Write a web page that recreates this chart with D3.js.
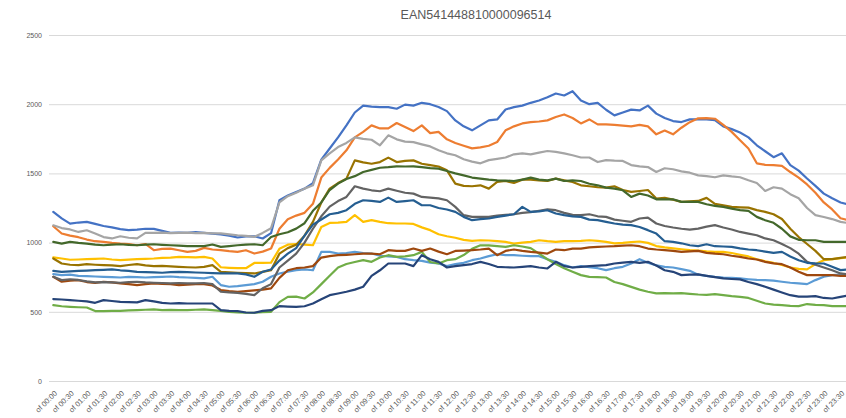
<!DOCTYPE html>
<html><head><meta charset="utf-8">
<script src="https://cdn.jsdelivr.net/npm/d3@7"></script>
<style>
body{margin:0;background:#fff}
svg{display:block}
text{font-family:"Liberation Sans",Arial,sans-serif}
</style>
</head><body>
<svg id="chart" width="846" height="418"></svg>
<script>
const chartTitle = "EAN541448810000096514";
const labelPrefix = "of ";
const times = [
"00:00","00:15","00:30","00:45","01:00","01:15","01:30","01:45","02:00","02:15","02:30","02:45",
"03:00","03:15","03:30","03:45","04:00","04:15","04:30","04:45","05:00","05:15","05:30","05:45",
"06:00","06:15","06:30","06:45","07:00","07:15","07:30","07:45","08:00","08:15","08:30","08:45",
"09:00","09:15","09:30","09:45","10:00","10:15","10:30","10:45","11:00","11:15","11:30","11:45",
"12:00","12:15","12:30","12:45","13:00","13:15","13:30","13:45","14:00","14:15","14:30","14:45",
"15:00","15:15","15:30","15:45","16:00","16:15","16:30","16:45","17:00","17:15","17:30","17:45",
"18:00","18:15","18:30","18:45","19:00","19:15","19:30","19:45","20:00","20:15","20:30","20:45",
"21:00","21:15","21:30","21:45","22:00","22:15","22:30","22:45","23:00","23:15","23:30","23:45"];
const tickLabels = ["00:00","00:30","01:00","01:30","02:00","02:30","03:00","03:30","04:00","04:30",
"05:00","05:30","06:00","06:30","07:00","07:30","08:00","08:30","09:00","09:30","10:00","10:30",
"11:00","11:30","12:00","12:30","13:00","13:30","14:00","14:30","15:00","15:30","16:00","16:30",
"17:00","17:30","18:00","18:30","19:00","19:30","20:00","20:30","21:00","21:30","22:00","22:30",
"23:00","23:30"];
const yTicks = [0,500,1000,1500,2000,2500];

const s1 = [1222,1175,1137,1145,1150,1135,1120,1110,1097,1090,
1094,1100,1099,1085,1070,1072,1070,1075,1070,1065,
1060,1050,1037,1045,1046,1030,1068,1306,1340,1366,
1390,1430,1600,1680,1760,1847,1940,1990,1982,1979,
1979,1967,1997,1990,2010,2000,1980,1950,1883,1840,
1811,1847,1883,1890,1962,1979,1990,2010,2027,2050,
2077,2063,2094,2027,2000,2010,1960,1919,1940,1961,
1955,1990,1932,1900,1878,1871,1890,1890,1890,1885,
1840,1820,1795,1760,1703,1660,1617,1645,1560,1520,
1463,1410,1354,1320,1290,1275];
const s2 = [1118,1066,1050,1039,1022,1010,1005,998,993,990,
981,990,945,955,957,945,933,940,962,950,
945,938,933,945,921,935,957,1100,1169,1195,
1215,1280,1470,1540,1600,1667,1760,1800,1847,1825,
1825,1864,1835,1806,1847,1791,1800,1746,1720,1700,
1681,1688,1700,1727,1811,1840,1861,1870,1875,1883,
1907,1926,1900,1861,1890,1854,1854,1850,1845,1840,
1850,1840,1782,1810,1782,1830,1870,1898,1900,1895,
1850,1800,1739,1680,1573,1562,1560,1555,1510,1470,
1420,1360,1290,1240,1176,1160];
const s3 = [1125,1105,1095,1077,1089,1066,1040,1030,1046,1035,
1030,1070,1070,1072,1068,1070,1072,1068,1070,1066,
1066,1060,1053,1048,1041,1070,1104,1290,1335,1360,
1390,1414,1594,1645,1690,1720,1760,1749,1743,1703,
1775,1746,1730,1726,1710,1695,1667,1645,1631,1602,
1585,1573,1596,1605,1615,1638,1645,1638,1650,1662,
1655,1645,1631,1615,1615,1582,1596,1592,1590,1560,
1551,1546,1510,1537,1530,1515,1505,1486,1480,1472,
1486,1478,1472,1450,1431,1373,1400,1390,1350,1320,
1250,1198,1185,1170,1150,1140];
const s4 = [893,885,876,878,880,883,885,878,873,877,
880,883,885,890,892,897,895,893,897,885,
822,818,815,815,853,853,855,955,985,990,
985,981,1113,1142,1145,1150,1198,1150,1162,1150,
1140,1138,1138,1135,1110,1090,1060,1046,1035,1020,
1012,1017,1015,1010,1005,993,1000,1005,1017,1010,
1005,1010,1010,1012,1017,1012,1005,995,998,1003,
1008,998,975,965,958,952,946,942,936,933,
933,925,912,900,880,865,853,838,820,810,
806,845,873,880,888,892];
const s5 = [772,765,768,760,758,755,753,750,748,753,
750,748,750,753,755,750,748,745,741,753,
693,681,685,693,700,717,753,777,790,801,
806,800,933,933,921,925,933,925,921,905,
900,897,880,873,868,855,849,830,845,854,
873,885,902,916,910,909,905,902,902,880,
861,837,820,830,822,815,801,815,825,849,
880,855,835,825,820,808,796,768,760,753,
748,745,741,735,730,729,725,717,710,705,
700,729,753,765,768,772];
const s6 = [548,540,536,533,531,505,505,507,507,510,
512,515,517,512,514,512,512,515,517,512,
507,500,495,493,493,498,500,570,608,610,
596,640,700,760,820,845,860,873,861,892,
909,897,900,909,933,860,849,873,880,910,
955,981,980,975,969,981,972,960,920,880,
845,815,790,765,752,750,748,715,700,680,
660,645,633,635,633,635,630,625,622,628,
620,613,608,600,580,560,552,548,543,541,
556,550,548,541,541,540];
const s7 = [592,589,585,580,575,565,584,578,572,570,
568,584,575,565,560,562,560,560,560,560,
512,507,505,495,493,507,512,541,538,536,
540,560,590,620,632,645,660,681,760,800,
849,849,849,830,909,880,861,820,830,837,
845,861,845,825,822,820,825,830,820,813,
861,830,820,825,830,833,837,849,855,861,
854,861,835,800,789,765,768,770,760,750,
741,737,734,715,700,681,660,640,620,610,
610,613,600,596,608,620];
const s8 = [753,717,725,729,715,709,717,712,705,700,
693,700,705,702,700,693,697,700,700,690,
657,650,645,650,655,660,669,745,800,815,
820,830,892,902,909,912,916,920,921,916,
945,940,940,957,940,957,935,916,940,942,
945,950,957,909,940,950,940,933,928,921,
950,945,957,957,965,969,972,974,978,981,
974,957,950,945,940,933,937,940,926,920,
916,905,897,885,878,861,850,844,820,790,
765,765,765,765,760,760];
const s9 = [753,729,735,730,720,712,715,712,710,715,
717,712,710,708,705,708,705,705,708,700,
645,640,637,630,620,670,700,820,870,920,
1000,1100,1190,1260,1300,1330,1407,1390,1378,1371,
1390,1375,1360,1354,1330,1325,1320,1306,1258,1198,
1186,1186,1186,1195,1200,1205,1215,1220,1230,1240,
1234,1215,1200,1198,1205,1190,1186,1166,1158,1150,
1174,1181,1138,1120,1109,1100,1094,1101,1115,1126,
1109,1095,1077,1065,1053,1030,1017,990,960,920,
861,840,820,800,777,770];
const s10 = [885,849,840,837,844,840,837,835,830,838,
844,835,830,832,828,825,822,820,825,837,
789,785,782,780,777,789,801,920,960,985,
1050,1150,1290,1390,1430,1462,1594,1580,1570,1582,
1614,1582,1590,1594,1570,1560,1550,1522,1426,1410,
1407,1414,1390,1438,1445,1431,1455,1455,1450,1445,
1462,1450,1438,1414,1407,1400,1397,1407,1380,1366,
1373,1380,1318,1323,1310,1294,1298,1301,1323,1280,
1270,1258,1255,1253,1235,1222,1205,1170,1100,1040,
990,940,880,880,890,897];
const s11 = [796,789,792,796,798,801,803,806,800,796,
789,787,785,782,786,789,786,784,782,780,
777,778,777,770,753,789,806,870,920,960,
1050,1130,1167,1205,1215,1234,1280,1306,1301,1294,
1325,1294,1300,1306,1270,1270,1250,1239,1222,1186,
1162,1170,1174,1186,1195,1205,1258,1222,1225,1234,
1210,1198,1190,1186,1166,1162,1150,1138,1130,1126,
1113,1090,1065,1010,1005,995,981,975,988,974,
972,969,958,950,945,935,926,933,900,873,
854,850,849,825,801,806];
const s12 = [1005,993,1005,998,993,985,981,985,988,984,
981,985,988,984,981,978,974,975,974,986,
969,975,981,985,988,981,1040,1060,1075,1101,
1140,1230,1290,1380,1426,1460,1480,1510,1525,1541,
1545,1551,1550,1551,1545,1538,1534,1517,1500,1486,
1470,1462,1455,1450,1448,1445,1455,1469,1455,1450,
1462,1445,1450,1445,1425,1414,1397,1390,1378,1330,
1354,1340,1313,1313,1313,1294,1294,1294,1277,1265,
1258,1246,1235,1229,1186,1162,1143,1100,1045,1020,
1017,1017,1005,1005,1005,1005];

const seriesList = [s1,s2,s3,s4,s5,s6,s7,s8,s9,s10,s11,s12];
const seriesColors = ["#4472C4","#ED7D31","#A5A5A5","#FFC000","#5B9BD5","#70AD47",
                      "#264478","#9E480E","#636363","#997300","#255E91","#43682B"];

const svg = d3.select("#chart");
const plotLeft = 49, plotRight = 846;
const x = d3.scalePoint().domain(times).range([53.3, 53.3 + 8.375 * (times.length - 1)]);
const y = d3.scaleLinear().domain([0, 2500]).range([381, 35]);

// title
svg.append("text").attr("x", 476).attr("y", 19).attr("text-anchor", "middle")
  .attr("font-size", 12.5).attr("fill", "#595959").text(chartTitle);

// y grid + labels
const yAxis = svg.append("g").attr("transform", `translate(${plotLeft},0)`)
  .call(d3.axisLeft(y).tickValues(yTicks).tickSize(-(plotRight - plotLeft)).tickPadding(7).tickFormat(d3.format("d")));
yAxis.select(".domain").remove();
yAxis.selectAll(".tick line").attr("stroke", "#d9d9d9").attr("stroke-width", 1);
yAxis.selectAll(".tick text").attr("fill", "#595959").attr("font-size", 7).style("font-family", '"Liberation Sans",Arial,sans-serif');

// x labels
const xAxis = svg.append("g").attr("transform", `translate(0,${y(0)})`)
  .call(d3.axisBottom(x).tickValues(tickLabels).tickSize(0).tickFormat(t => labelPrefix + t));
xAxis.select(".domain").remove();
xAxis.selectAll(".tick text")
  .attr("fill", "#595959").attr("font-size", 7.5).style("font-family", '"Liberation Sans",Arial,sans-serif')
  .attr("text-anchor", "end").attr("x", 0).attr("y", 0).attr("dy", "0.35em")
  .attr("transform", "translate(2,11) rotate(-45)");

// lines
const line = d3.line().x((d, i) => x(times[i])).y(d => y(d));
svg.append("g").selectAll("path").data(seriesList).join("path")
  .attr("d", line).attr("fill", "none")
  .attr("stroke", (d, i) => seriesColors[i]).attr("stroke-width", 2.2)
  .attr("stroke-linejoin", "round").attr("stroke-linecap", "round");
</script>
</body></html>
